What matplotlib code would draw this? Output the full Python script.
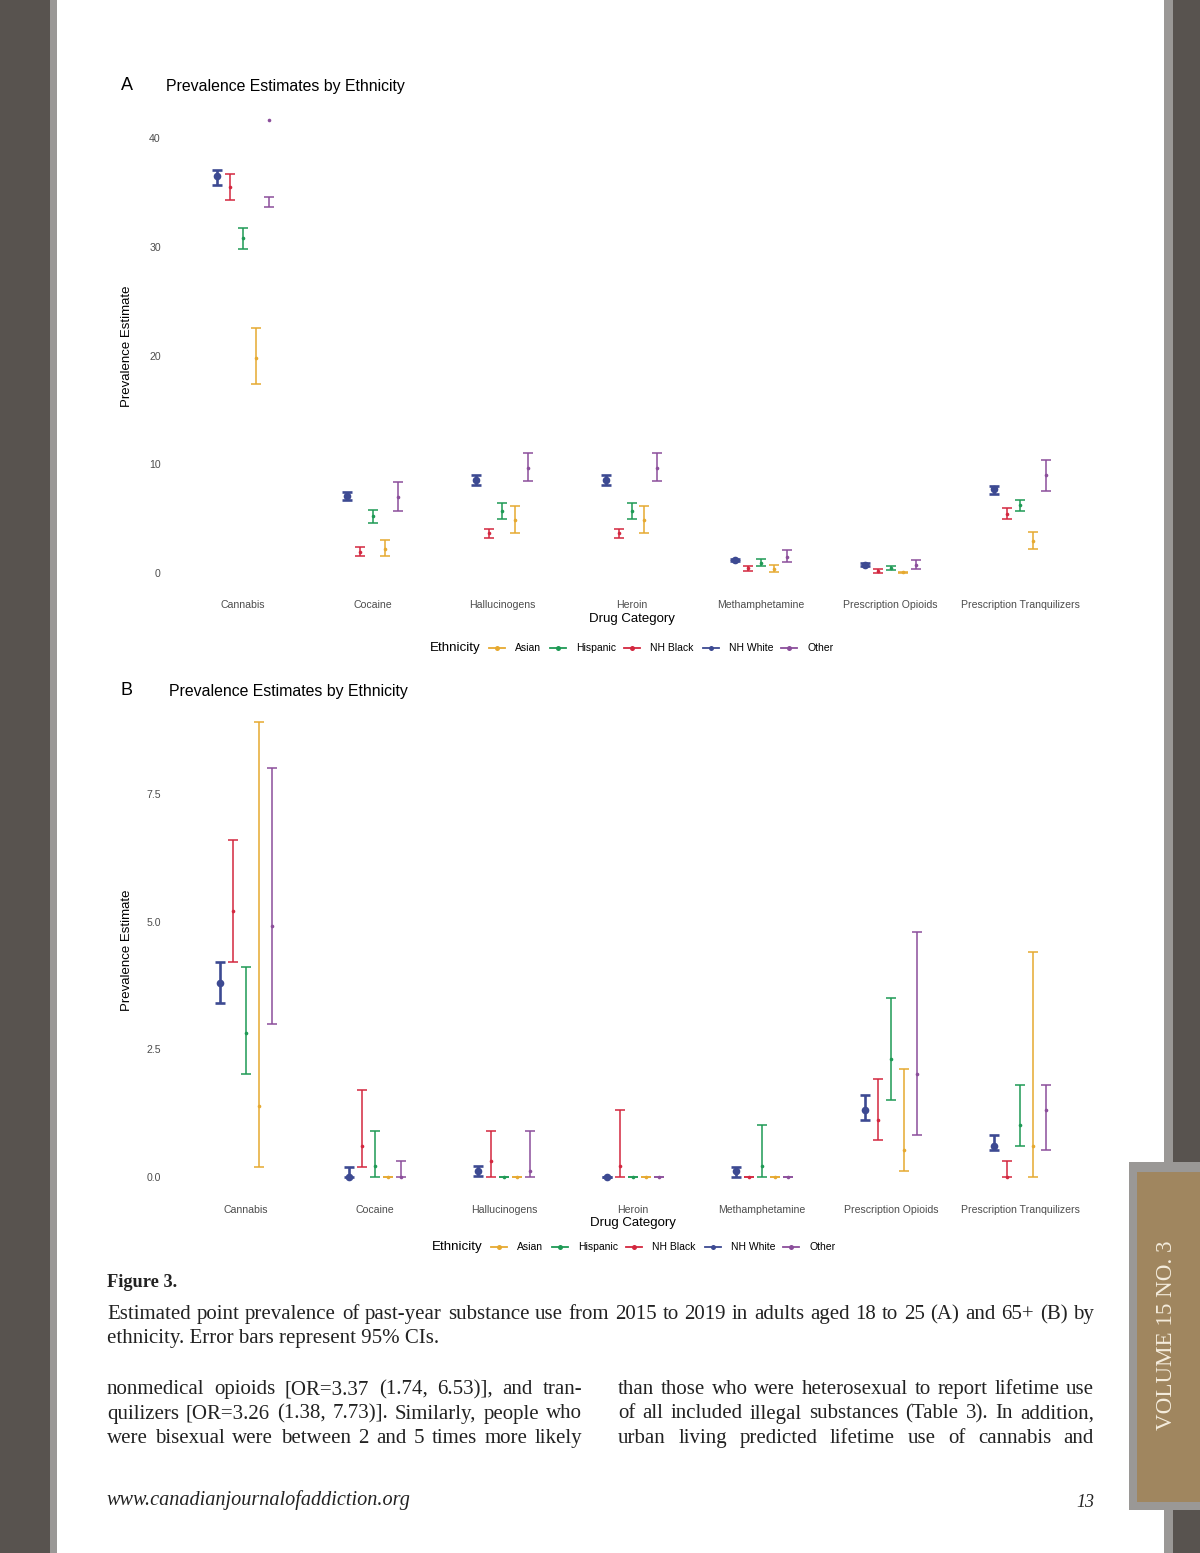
import matplotlib
matplotlib.use("Agg")
import matplotlib.pyplot as plt
from matplotlib.patches import Rectangle
from matplotlib.lines import Line2D
import numpy as np

W, H = 1200, 1553

# ---------------- data ----------------
categories = ["Cannabis", "Cocaine", "Hallucinogens", "Heroin", "Methamphetamine",
              "Prescription Opioids", "Prescription Tranquilizers"]
ethnicities = ["Asian", "Hispanic", "NH Black", "NH White", "Other"]

# Panel A: adults 18 to 25
a_asian_est = [19.8, 2.2, 4.9, 4.9, 0.37, 0.06, 2.97]
a_asian_lo = [17.4, 1.6, 3.7, 3.7, 0.12, 0.0, 2.24]
a_asian_hi = [22.5, 3.0, 6.2, 6.2, 0.74, 0.12, 3.74]
a_hisp_est = [30.8, 5.2, 5.7, 5.7, 0.95, 0.49, 6.26]
a_hisp_lo = [29.8, 4.6, 5.0, 5.0, 0.61, 0.28, 5.73]
a_hisp_hi = [31.7, 5.8, 6.4, 6.4, 1.29, 0.67, 6.75]
a_black_est = [35.5, 1.9, 3.65, 3.65, 0.43, 0.21, 5.46]
a_black_lo = [34.3, 1.55, 3.22, 3.22, 0.21, 0.03, 4.97]
a_black_hi = [36.7, 2.4, 4.08, 4.08, 0.67, 0.40, 5.95]
a_white_est = [36.5, 7.1, 8.56, 8.56, 1.17, 0.77, 7.7]
a_white_lo = [35.7, 6.7, 8.13, 8.13, 1.1, 0.6, 7.27]
a_white_hi = [37.1, 7.45, 8.99, 8.99, 1.25, 0.95, 8.0]
a_other_est = [41.7, 7.0, 9.69, 9.69, 1.5, 0.7, 8.98]
a_other_lo = [33.7, 5.7, 8.43, 8.43, 1.04, 0.34, 7.57]
a_other_hi = [34.6, 8.4, 11.0, 11.0, 2.08, 1.17, 10.37]

# Panel B: adults 65+
b_asian_est = [1.40, 0.0, 0.0, 0.0, 0.0, 0.52, 0.61]
b_asian_lo = [0.20, 0.0, 0.0, 0.0, 0.0, 0.12, 0.0]
b_asian_hi = [8.90, 0.0, 0.0, 0.0, 0.0, 2.11, 4.41]
b_hisp_est = [2.81, 0.21, 0.0, 0.0, 0.215, 2.32, 1.02]
b_hisp_lo = [2.01, 0.0, 0.0, 0.0, 0.0, 1.51, 0.61]
b_hisp_hi = [4.11, 0.91, 0.0, 0.0, 1.01, 3.51, 1.81]
b_black_est = [5.20, 0.61, 0.31, 0.21, 0.0, 1.12, 0.0]
b_black_lo = [4.21, 0.20, 0.0, 0.0, 0.0, 0.72, 0.0]
b_black_hi = [6.60, 1.71, 0.91, 1.31, 0.0, 1.91, 0.32]
b_white_est = [3.80, 0.0, 0.12, 0.0, 0.12, 1.31, 0.61]
b_white_lo = [3.40, 0.0, 0.01, 0.0, 0.0, 1.11, 0.52]
b_white_hi = [4.21, 0.20, 0.22, 0.0, 0.20, 1.61, 0.82]
b_other_est = [4.91, 0.0, 0.12, 0.0, 0.0, 2.02, 1.31]
b_other_lo = [3.0, 0.0, 0.0, 0.0, 0.0, 0.82, 0.52]
b_other_hi = [8.0, 0.32, 0.91, 0.0, 0.0, 4.80, 1.81]

a_yticks = [0, 10, 20, 30, 40]
a_yticklabels = ["0", "10", "20", "30", "40"]
b_yticks = [0.0, 2.5, 5.0, 7.5]
b_yticklabels = ["0.0", "2.5", "5.0", "7.5"]

# ---------------- styles ----------------
colors = {"Asian": "#E6A930", "Hispanic": "#1E9A55", "NH Black": "#D3273F",
          "NH White": "#3D4A92", "Other": "#8B4E9B"}
dodge = {"NH White": -0.2, "NH Black": -0.1, "Hispanic": 0.0, "Asian": 0.1, "Other": 0.2}

panelA = {"Asian": (a_asian_est, a_asian_lo, a_asian_hi),
          "Hispanic": (a_hisp_est, a_hisp_lo, a_hisp_hi),
          "NH Black": (a_black_est, a_black_lo, a_black_hi),
          "NH White": (a_white_est, a_white_lo, a_white_hi),
          "Other": (a_other_est, a_other_lo, a_other_hi)}
panelB = {"Asian": (b_asian_est, b_asian_lo, b_asian_hi),
          "Hispanic": (b_hisp_est, b_hisp_lo, b_hisp_hi),
          "NH Black": (b_black_est, b_black_lo, b_black_hi),
          "NH White": (b_white_est, b_white_lo, b_white_hi),
          "Other": (b_other_est, b_other_lo, b_other_hi)}

SANS = "Liberation Sans"
SERIF = "Liberation Serif"
DARK = "#58534f"
LGREY = "#9a9896"
BROWN = "#a0865f"
INK = "#222222"

fig = plt.figure(figsize=(W / 100, H / 100), dpi=100)
fig.patch.set_facecolor("white")


def fx(x):
    return x / W


def fy(y):
    return 1 - y / H


def rect(x0, y0, x1, y1, color, z=0):
    fig.add_artist(Rectangle((fx(x0), fy(y1)), (x1 - x0) / W, (y1 - y0) / H,
                             transform=fig.transFigure, color=color, zorder=z, lw=0))


# page frame
rect(0, 0, 50, H, DARK)
rect(50, 0, 57, H, LGREY)
rect(1164, 0, 1173, H, LGREY)
rect(1173, 0, W, H, DARK)
rect(1129, 1162, W, 1510, LGREY, z=1)
rect(1137, 1172, W, 1502, BROWN, z=2)
fig.text(fx(1166), fy(1335), "VOLUME 15 NO. 3", rotation=90, ha="center", va="center",
         family=SERIF, fontsize=16.6, color="#f4ecdc", zorder=3)


def make_panel(data, box, cat0, catstep, y0px, pxperunit, yticks, yticklabels):
    left, top, right, bottom = box
    ax = fig.add_axes([fx(left), fy(bottom), (right - left) / W, (bottom - top) / H])
    ax.set_xlim((left - cat0) / catstep, (right - cat0) / catstep)
    ax.set_ylim((y0px - bottom) / pxperunit, (y0px - top) / pxperunit)
    for s in ax.spines.values():
        s.set_visible(False)
    ax.set_facecolor("none")
    ax.set_xticks(range(len(categories)))
    ax.set_xticklabels(categories, fontsize=7.6, color="#4d4d4d", family=SANS)
    ax.set_yticks(yticks)
    ax.set_yticklabels(yticklabels, fontsize=7.6, color="#4d4d4d", family=SANS)
    ax.tick_params(axis="both", length=0)
    ax.tick_params(axis="x", pad=7)
    ax.tick_params(axis="y", pad=3)
    xs = np.arange(len(categories))
    for eth in ["Asian", "Hispanic", "NH Black", "Other", "NH White"]:
        est, lo, hi = (np.array(v, dtype=float) for v in data[eth])
        x = xs + dodge[eth]
        big = eth == "NH White"
        ax.errorbar(x, (lo + hi) / 2, yerr=(hi - lo) / 2, fmt="none", ecolor=colors[eth],
                    elinewidth=1.9 if big else 1.1, capsize=3.4, capthick=1.9 if big else 1.1)
        ax.plot(x, est, "o", color=colors[eth], markersize=5.5 if big else 2.6,
                markeredgewidth=0, linestyle="none")
    return ax


def legend_row(y, title_x, keys):
    fig.text(fx(title_x), fy(y), "Ethnicity", family=SANS, fontsize=9.6, ha="left",
             va="center", color="black")
    for eth, kx in zip(ethnicities, keys):
        fig.add_artist(Line2D([fx(kx - 8), fx(kx + 8)], [fy(y), fy(y)], transform=fig.transFigure,
                              color=colors[eth], lw=1.3, marker=None))
        fig.add_artist(Line2D([fx(kx)], [fy(y)], transform=fig.transFigure,
                              color=colors[eth], marker="o", markersize=3.6, markeredgewidth=0))
        fig.text(fx(kx + 18), fy(y), eth, family=SANS, fontsize=7.5, ha="left", va="center",
                 color="black")


# ---------------- panel A ----------------
fig.text(fx(127), fy(85), "A", family=SANS, fontsize=13, ha="center", va="center")
fig.text(fx(166), fy(86), "Prevalence Estimates by Ethnicity", family=SANS, fontsize=11.4,
         ha="left", va="center")
make_panel(panelA, (165, 110, 1095, 590), 243, 129.5, 573, 10.87, a_yticks, a_yticklabels)
fig.text(fx(127), fy(346), "Prevalence Estimate", family=SANS, fontsize=9.5, rotation=90,
         ha="center", va="center")
fig.text(fx(632), fy(619), "Drug Category", family=SANS, fontsize=9.5, ha="center", va="center")
legend_row(648, 430, [497, 558, 632, 711, 789])

# ---------------- panel B ----------------
fig.text(fx(126), fy(691), "B", family=SANS, fontsize=13, ha="center", va="center")
fig.text(fx(169), fy(692), "Prevalence Estimates by Ethnicity", family=SANS, fontsize=11.4,
         ha="left", va="center")
make_panel(panelB, (165, 710, 1095, 1195), 246, 129.0, 1177, 51.07, b_yticks, b_yticklabels)
fig.text(fx(127), fy(950), "Prevalence Estimate", family=SANS, fontsize=9.5, rotation=90,
         ha="center", va="center")
fig.text(fx(633), fy(1223), "Drug Category", family=SANS, fontsize=9.5, ha="center", va="center")
legend_row(1247, 432, [499, 560, 634, 713, 791])

# ---------------- page text ----------------
renderer = fig.canvas.get_renderer()
BODY = 15.0


def justified(line, x0, x1, ybase, size=BODY, **kw):
    words = line.split(" ")
    texts = [fig.text(0, fy(ybase), w, family=SERIF, fontsize=size, ha="left", va="baseline",
                      color=INK, **kw) for w in words]
    widths = [t.get_window_extent(renderer).width for t in texts]
    gap = (x1 - x0 - sum(widths)) / (len(words) - 1)
    x = x0
    for t, w in zip(texts, widths):
        t.set_x(fx(x))
        x += w + gap


fig.text(fx(107), fy(1287), "Figure 3.", family=SERIF, fontsize=13.2, weight="bold",
         ha="left", va="baseline", color=INK)
justified("Estimated point prevalence of past-year substance use from 2015 to 2019 in adults "
          "aged 18 to 25 (A) and 65+ (B) by", 107, 1094, 1319)
fig.text(fx(107), fy(1343), "ethnicity. Error bars represent 95% CIs.", family=SERIF,
         fontsize=BODY, ha="left", va="baseline", color=INK)

left_col = ["nonmedical opioids [OR=3.37 (1.74, 6.53)], and tran-",
            "quilizers [OR=3.26 (1.38, 7.73)]. Similarly, people who",
            "were bisexual were between 2 and 5 times more likely"]
right_col = ["than those who were heterosexual to report lifetime use",
             "of all included illegal substances (Table 3). In addition,",
             "urban living predicted lifetime use of cannabis and"]
for i, (l, r) in enumerate(zip(left_col, right_col)):
    yb = 1394 + 24.5 * i
    justified(l, 107, 582, yb)
    justified(r, 618, 1094, yb)

fig.text(fx(107), fy(1505), "www.canadianjournalofaddiction.org", family=SERIF, fontsize=14.6,
         style="italic", ha="left", va="baseline", color=INK)
fig.text(fx(1094), fy(1507), "13", family=SERIF, fontsize=13, style="italic", ha="right",
         va="baseline", color=INK)

fig.savefig("out.png", dpi=100, facecolor="white")
